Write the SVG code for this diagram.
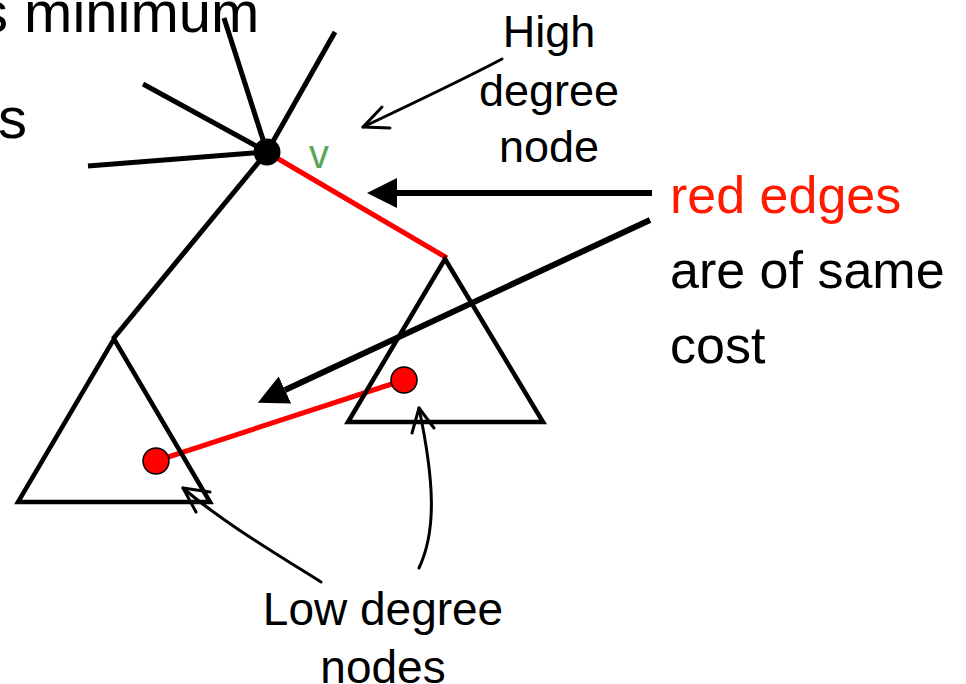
<svg xmlns="http://www.w3.org/2000/svg" width="966" height="684" viewBox="0 0 966 684">
<style>
  text { font-family: "Liberation Sans", Arial, sans-serif; fill: #000; }
  .big { font-size: 58px; }
  .side { font-size: 52px; }
  .lbl { font-size: 45px; text-anchor: middle; }
  .spoke { stroke: #000; stroke-width: 5; stroke-linecap: butt; fill: none; }
  .tri { stroke: #000; stroke-width: 4.5; fill: none; stroke-linejoin: miter; }
  .red { stroke: #ff0000; stroke-width: 5; fill: none; }
  .thick { stroke: #000; stroke-width: 6; fill: none; }
  .thin { stroke: #000; stroke-width: 3; fill: none; stroke-linecap: round; stroke-linejoin: round; }
  .rnode { fill: #ff0000; stroke: #000; stroke-width: 1.5; }
</style>
<defs>
  <marker id="solid" markerUnits="userSpaceOnUse" markerWidth="30" markerHeight="30" refX="0" refY="14" orient="auto" viewBox="0 0 28 28">
    <path d="M0,0 L28,14 L0,28 z" fill="#000"/>
  </marker>
</defs>
<rect width="966" height="684" fill="#fff"/>

<g id="title-text">
  <text class="big" x="-21" y="32">s minimum</text>
  <text class="big" x="-2" y="138">s</text>
</g>

<g id="connectors">
  <line class="spoke" x1="267" y1="152" x2="224" y2="18"/>
  <line class="spoke" x1="267" y1="152" x2="335" y2="32"/>
  <line class="spoke" x1="267" y1="152" x2="143" y2="84"/>
  <line class="spoke" x1="267" y1="152" x2="88" y2="166"/>
  <line class="spoke" x1="267" y1="152" x2="113" y2="339"/>
  <line class="red" x1="270" y1="154" x2="447" y2="258"/>
  <line class="red" x1="156" y1="461" x2="404" y2="380"/>
  <line class="thick" x1="652" y1="193" x2="397" y2="193" marker-end="url(#solid)"/>
  <line class="thick" x1="650" y1="220" x2="285" y2="390" marker-end="url(#solid)"/>
  <path class="thin" d="M502,59 C470,76 420,100 363,127"/>
  <path class="thin" d="M382,107 L363,127 L390,128"/>
  <path class="thin" d="M321,582 C270,550 220,520 183,488"/>
  <path class="thin" d="M210,492 L183,488 L196,512"/>
  <path class="thin" d="M419,568 C437,530 434,480 419,408"/>
  <path class="thin" d="M412,433 L419,408 L434,428"/>
</g>

<g id="hub">
  <circle cx="267" cy="152" r="13.5" fill="#000"/>
  <text x="309" y="168" style="font-size:40px; fill:#5aa55a;">v</text>
</g>

<g id="left-subtree">
  <path class="tri" d="M114,339 L18,502 L210,502 Z"/>
</g>
<g id="right-subtree">
  <path class="tri" d="M445,259 L348,422 L543,422 Z"/>
</g>

<g id="low-node-left">
  <circle class="rnode" cx="156" cy="461" r="13"/>
</g>
<g id="low-node-right">
  <circle class="rnode" cx="404" cy="380" r="13"/>
</g>

<g id="label-high">
  <text class="lbl" x="549" y="47">High</text>
  <text class="lbl" x="549" y="106">degree</text>
  <text class="lbl" x="549" y="162">node</text>
</g>

<g id="label-red">
  <text class="side" x="670" y="213" style="fill:#ff1a00;">red edges</text>
  <text class="side" x="670" y="288">are of same</text>
  <text class="side" x="670" y="363">cost</text>
</g>

<g id="label-low">
  <text class="lbl" x="383" y="625" style="font-size:46px;">Low degree</text>
  <text class="lbl" x="383" y="683" style="font-size:46px;">nodes</text>
</g>
</svg>
